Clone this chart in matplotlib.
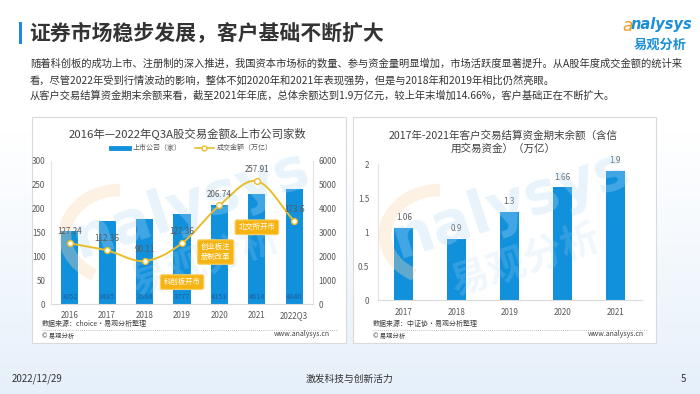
import numpy as np
import matplotlib
matplotlib.use("Agg")
import matplotlib.pyplot as plt
from matplotlib.lines import Line2D
from matplotlib.patches import Rectangle, Arc
from matplotlib.colors import LinearSegmentedColormap

plt.rcParams['font.family'] = ['Noto Sans CJK SC', 'DejaVu Sans']

# ---------------- data ----------------
years_left = ["2016", "2017", "2018", "2019", "2020", "2021", "2022Q3"]
listed_companies = [3052, 3485, 3584, 3777, 4153, 4614, 4840]
turnover = [127.24, 112.36, 90.11, 127.36, 206.74, 257.91, 173.6]
turnover_labels = ["127.24", "112.36", "90.11", "127.36", "206.74", "257.91", "173.6"]
events = ["科创板开市", "创业板注\n册制改革", "北交所开市"]

years_right = ["2017", "2018", "2019", "2020", "2021"]
settlement_funds = [1.06, 0.9, 1.3, 1.66, 1.9]

title = "证券市场稳步发展，客户基础不断扩大"
para = ["随着科创板的成功上市、注册制的深入推进，我国资本市场标的数量、参与资金量明显增加，市场活跃度显著提升。从A股年度成交金额的统计来",
        "看，尽管2022年受到行情波动的影响，整体不如2020年和2021年表现强势，但是与2018年和2019年相比仍然亮眼。",
        "从客户交易结算资金期末余额来看，截至2021年年底，总体余额达到1.9万亿元，较上年末增加14.66%，客户基础正在不断扩大。"]

W, H = 700, 394
BLUE = '#1190DC'
GOLD = '#E9BD2B'
BOX = '#F5B412'
GREY = '#595959'

fig = plt.figure(figsize=(7, 3.94), dpi=100)

def fx(x):
    return x / W

def fy(y):
    return 1 - y / H

def rect(x0, y0, x1, y1):
    return [fx(x0), fy(y1), (x1 - x0) / W, (y1 - y0) / H]

# background gradient
bg = fig.add_axes([0, 0, 1, 1], zorder=-10)
grad = np.linspace(0, 1, 256).reshape(-1, 1)
cmap = LinearSegmentedColormap.from_list('bg', ['#FFFFFF', '#FFFFFF', '#F3F8FD', '#E6F0FA'])
bg.imshow(grad, aspect='auto', cmap=cmap, extent=[0, 1, 0, 1], origin='upper')
bg.set_xlim(0, 1); bg.set_ylim(0, 1)
bg.axis('off')

# panels
for (x0, y0, x1, y1) in [(32, 117, 346, 343), (353, 117, 656, 343)]:
    fig.patches.append(Rectangle((fx(x0), fy(y1)), (x1 - x0) / W, (y1 - y0) / H,
                                 transform=fig.transFigure, facecolor='white',
                                 edgecolor='#DADADA', linewidth=0.8, zorder=-5))

# header
fig.patches.append(Rectangle((fx(19), fy(44)), 3 / W, 22 / H, transform=fig.transFigure,
                             facecolor='#1E88E5', edgecolor='none'))
fig.text(fx(29), fy(33), title, fontsize=15, fontweight='bold', color='#333333', va='center', ha='left')
fig.text(fx(622), fy(26), "a", fontsize=12, color='#F39A1E', fontstyle='italic', va='center', ha='left', family='DejaVu Sans')
fig.text(fx(631), fy(25), "nalysys", fontsize=10.5, color='#1A8FD8', fontstyle='italic', fontweight='bold', va='center', ha='left', family='DejaVu Sans')
fig.text(fx(687), fy(45), "易观分析", fontsize=9.5, color='#1A8FD8', fontweight='bold', va='center', ha='right')

for i, line in enumerate(para):
    fig.text(fx(30), fy(64 + 16 * i), line, fontsize=7.4, color='#333333', va='center', ha='left')

# footer
fig.text(fx(12), fy(379), "2022/12/29", fontsize=7, color='#333333', va='center', ha='left')
fig.text(fx(349), fy(379), "激发科技与创新活力", fontsize=7, color='#333333', va='center', ha='center')
fig.text(fx(686), fy(379), "5", fontsize=7, color='#333333', va='center', ha='right')

# watermarks (behind charts)
for cx in (185, 505):
    fig.text(fx(cx + 5), fy(205), "nalysys", fontsize=42, color='#B5DAF4', alpha=0.3, rotation=18,
             ha='center', va='center', fontweight='bold', family='DejaVu Sans', zorder=0)
    fig.text(fx(cx + 20), fy(262), "易观分析", fontsize=28, color='#B5DAF4', alpha=0.2, rotation=18,
             ha='center', va='center', fontweight='bold', zorder=0)
    fig.patches.append(Arc((fx(cx - 65), fy(235)), 110 / W, 90 / H, theta1=90, theta2=250,
                           transform=fig.transFigure, color='#F9D9B0', alpha=0.35, linewidth=9, zorder=0))

# ---------------- left chart ----------------
fig.text(fx(187), fy(133), "2016年—2022年Q3A股交易金额&上市公司家数", fontsize=8.2, color='#404040', va='center', ha='center')

axL = fig.add_axes(rect(51, 161, 313, 304))
axR = axL.twinx()
axL.set_zorder(axR.get_zorder() + 1)
axL.patch.set_visible(False)
axR.patch.set_visible(False)

xl = np.arange(len(years_left))
axR.bar(xl, listed_companies, width=0.46, color=BLUE, zorder=2)
for xi, v in zip(xl, listed_companies):
    axR.text(xi, 120, str(v), ha='center', va='bottom', fontsize=5.3, color='#1F5F9E', zorder=3)
axR.set_ylim(0, 6000)
axR.set_yticks(np.arange(0, 6001, 1000))

# smooth (Catmull-Rom) curve through the data points
def catmull(x, y, n=30):
    x = np.asarray(x, float); y = np.asarray(y, float)
    px = np.concatenate([[2 * x[0] - x[1]], x, [2 * x[-1] - x[-2]]])
    py = np.concatenate([[2 * y[0] - y[1]], y, [2 * y[-1] - y[-2]]])
    xs, ys = [], []
    for i in range(1, len(px) - 2):
        t = np.linspace(0, 1, n)
        for arr, out in ((px, xs), (py, ys)):
            p0, p1, p2, p3 = arr[i - 1], arr[i], arr[i + 1], arr[i + 2]
            out.append(0.5 * ((2 * p1) + (-p0 + p2) * t + (2 * p0 - 5 * p1 + 4 * p2 - p3) * t ** 2
                              + (-p0 + 3 * p1 - 3 * p2 + p3) * t ** 3))
    return np.concatenate(xs), np.concatenate(ys)

sx, sy = catmull(xl, turnover)
axL.plot(sx, sy, color=GOLD, linewidth=1.4, zorder=4)
axL.plot(xl, turnover, linestyle='none', marker='o', markersize=4.2, markerfacecolor='white',
         markeredgecolor=GOLD, markeredgewidth=1.0, zorder=5)
for xi, v, lab in zip(xl, turnover, turnover_labels):
    axL.annotate(lab, (xi, v), xytext=(0, 5), textcoords='offset points', ha='center', va='bottom',
                 fontsize=5.8, color=GREY, zorder=6)
axL.set_ylim(0, 300)
axL.set_yticks(np.arange(0, 301, 50))
axL.set_xlim(-0.5, len(years_left) - 0.5)
axL.set_xticks(xl)
axL.set_xticklabels(years_left)

# event boxes
ev_pos = [(3.0, 46), (3.9, 109), (5.0, 161)]
for (ex, ey), txt in zip(ev_pos, events):
    axL.text(ex, ey, txt, ha='center', va='center', fontsize=5.3, color='white', zorder=7,
             linespacing=1.3,
             bbox=dict(boxstyle='round,pad=0.45,rounding_size=0.25', facecolor=BOX, edgecolor='#F8D068', linewidth=0.8))

for a in (axL, axR):
    a.tick_params(length=0, labelsize=5.8, labelcolor=GREY, pad=4)
    for s in a.spines.values():
        s.set_visible(False)
axL.spines['bottom'].set_visible(True)
axL.spines['bottom'].set_color('#D9D9D9')
axL.spines['left'].set_visible(True)
axL.spines['left'].set_color('#E3E3E3')
axL.spines['right'].set_visible(True)
axL.spines['right'].set_color('#E3E3E3')
axL.tick_params(axis='x', pad=5)

handles = [Line2D([0], [0], color=BLUE, linewidth=3.5),
           Line2D([0], [0], color=GOLD, linewidth=1.2, marker='o', markersize=3.5,
                  markerfacecolor='white', markeredgecolor=GOLD)]
fig.legend(handles, ["上市公司（家）", "成交金额（万亿）"], loc='center', bbox_to_anchor=(fx(192), fy(148)),
           ncol=2, frameon=False, fontsize=5, handlelength=2.6, columnspacing=2.0, labelcolor=GREY,
           handletextpad=0.5)

# ---------------- right chart ----------------
fig.text(fx(503), fy(136), "2017年-2021年客户交易结算资金期末余额（含信", fontsize=7.6, color='#404040', va='center', ha='center')
fig.text(fx(503), fy(149), "用交易资金）（万亿）", fontsize=7.6, color='#404040', va='center', ha='center')

ax2 = fig.add_axes(rect(377.5, 164, 641.5, 300))
xr = np.arange(len(years_right))
ax2.bar(xr, settlement_funds, width=0.36, color=BLUE, zorder=2)
for xi, v in zip(xr, settlement_funds):
    ax2.annotate(f"{v:g}", (xi, v), xytext=(0, 4), textcoords='offset points', ha='center', va='bottom',
                 fontsize=5.8, color=GREY)
ax2.set_ylim(0, 2)
ax2.set_yticks([0, 0.5, 1, 1.5, 2])
ax2.set_yticklabels(["0", "0.5", "1", "1.5", "2"])
ax2.set_xlim(-0.5, len(years_right) - 0.5)
ax2.set_xticks(xr)
ax2.set_xticklabels(years_right)
ax2.patch.set_visible(False)
ax2.tick_params(length=0, labelsize=5.8, labelcolor=GREY, pad=6)
for s in ax2.spines.values():
    s.set_visible(False)
ax2.spines['bottom'].set_visible(True)
ax2.spines['bottom'].set_color('#D9D9D9')
ax2.spines['left'].set_visible(True)
ax2.spines['left'].set_color('#E3E3E3')

# source notes
for (x0, x1, src) in [(42, 338, "数据来源：choice·易观分析整理"), (373, 648, "数据来源：中证协·易观分析整理")]:
    fig.text(fx(x0), fy(324), src, fontsize=5, color='#404040', va='center', ha='left')
    fig.lines.append(Line2D([fx(x0), fx(x1)], [fy(330), fy(330)], transform=fig.transFigure,
                            color='#AAAAAA', linewidth=0.6, linestyle=(0, (1, 1.5))))
    fig.text(fx(x0), fy(336), "© 易观分析", fontsize=4.6, color='#404040', va='center', ha='left')
    fig.text(fx(x1 - 8 if x0 < 100 else x1 - 4), fy(334), "www.analysys.cn", fontsize=5, color='#404040',
             va='center', ha='right')

fig.savefig("out.png", dpi=100)
